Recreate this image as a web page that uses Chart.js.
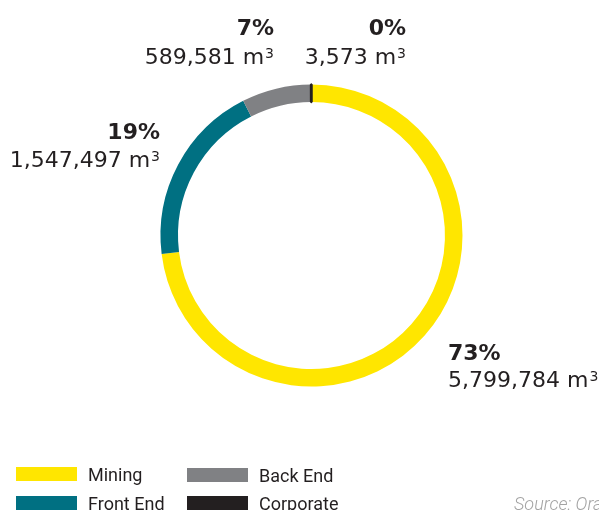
<!DOCTYPE html>
<html>
<head>
<meta charset="utf-8">
<script src="https://cdn.jsdelivr.net/npm/chart.js@4/dist/chart.umd.min.js"></script>
<style>
  html, body { margin: 0; padding: 0; background: #ffffff; }
  #wrap { position: relative; width: 599px; height: 510px; overflow: hidden; }
  canvas { display: block; }
</style>
</head>
<body>
<div id="wrap"><canvas id="c" width="599" height="510"></canvas></div>
<script>
// Waste volumes by activity (m³)
const categories = ['Mining', 'Front End', 'Back End', 'Corporate'];
const volumes = [5799784, 1547497, 589581, 3573];
const colors = ['#FFE600', '#007082', '#808184', '#231F20'];
const sourceNote = 'Source: Ora';

const total = volumes.reduce((a, b) => a + b, 0);
const fmt = v => v.toLocaleString('en-US');
const pct = v => Math.round(v / total * 100) + '%';

const INK = '#231F20';

// Anchor for each value label: x, alignment, baseline of percent and volume lines
const labelAnchors = [
  { x: 448, align: 'left',  yPct: 360, yVal: 387 },
  { x: 160, align: 'right', yPct: 139, yVal: 167 },
  { x: 274, align: 'right', yPct: 35,  yVal: 64 },
  { x: 406, align: 'right', yPct: 35,  yVal: 64 }
];

// Legend grid: two columns, two rows
const legendCells = [
  { x: 16,  y: 467 },
  { x: 16,  y: 496 },
  { x: 187, y: 468 },
  { x: 187, y: 496 }
];

function drawVolume(ctx, text, x, y, align) {
  const mainFont = '22px "DejaVu Sans"';
  const supFont = '14px "DejaVu Sans"';
  ctx.font = mainFont;
  const wMain = ctx.measureText(text).width;
  ctx.font = supFont;
  const wSup = ctx.measureText('3').width + 1;
  const left = align === 'left' ? x : x - wMain - wSup;
  ctx.textAlign = 'left';
  ctx.textBaseline = 'alphabetic';
  ctx.font = mainFont;
  ctx.fillText(text, left, y);
  ctx.font = supFont;
  ctx.fillText('3', left + wMain + 1, y - 6.5);
}

const annotate = {
  id: 'annotate',
  afterDraw(chart) {
    const ctx = chart.ctx;
    const ds = chart.data.datasets[0];
    ctx.save();
    ctx.fillStyle = INK;
    // value labels
    chart.data.labels.forEach((lab, i) => {
      const a = labelAnchors[i];
      ctx.font = 'bold 22px "DejaVu Sans"';
      ctx.textAlign = a.align;
      ctx.textBaseline = 'alphabetic';
      ctx.fillText(pct(ds.data[i]), a.x, a.yPct);
      drawVolume(ctx, fmt(ds.data[i]) + ' m', a.x, a.yVal, a.align);
    });
    // legend
    chart.data.labels.forEach((lab, i) => {
      const c = legendCells[i];
      ctx.fillStyle = ds.backgroundColor[i];
      ctx.fillRect(c.x, c.y, 61, 14);
      ctx.fillStyle = INK;
      ctx.font = '18px Roboto';
      ctx.textAlign = 'left';
      ctx.textBaseline = 'alphabetic';
      ctx.fillText(lab, c.x + 72, c.y + 14);
    });
    // source note
    ctx.fillStyle = '#A3A3A3';
    ctx.font = 'italic 300 18px Roboto';
    ctx.textAlign = 'left';
    ctx.fillText(sourceNote, 514, 510);
    ctx.restore();
  }
};

new Chart(document.getElementById('c'), {
  type: 'doughnut',
  data: {
    labels: categories,
    datasets: [{
      data: volumes,
      backgroundColor: colors,
      borderColor: colors,
      borderWidth: [0, 0, 0, 2.5],
      hoverOffset: 0
    }]
  },
  options: {
    responsive: false,
    animation: false,
    radius: 151,
    cutout: '88.4%',
    layout: { padding: { left: 160.5, right: 136.5, top: 84.5, bottom: 123.5 } },
    plugins: {
      legend: { display: false },
      tooltip: { enabled: false }
    }
  },
  plugins: [annotate]
});
</script>
</body>
</html>
